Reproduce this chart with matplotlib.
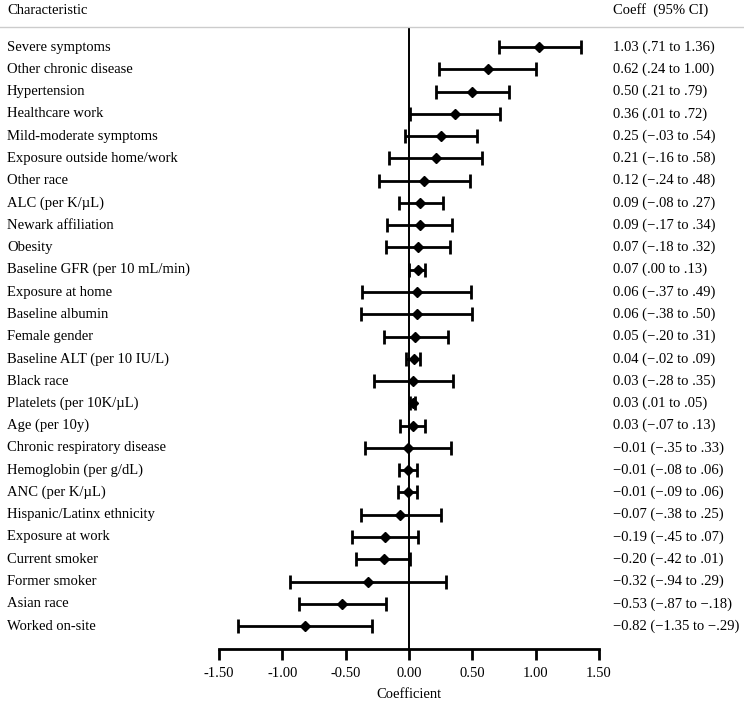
import numpy as np
import matplotlib.pyplot as plt
import matplotlib.transforms as mtransforms

# Forest plot data (coefficients with 95% CI)
labels = [
    "Severe symptoms", "Other chronic disease", "Hypertension", "Healthcare work",
    "Mild-moderate symptoms", "Exposure outside home/work", "Other race",
    "ALC (per K/\u00b5L)", "Newark affiliation", "Obesity",
    "Baseline GFR (per 10 mL/min)", "Exposure at home", "Baseline albumin",
    "Female gender", "Baseline ALT (per 10 IU/L)", "Black race",
    "Platelets (per 10K/\u00b5L)", "Age (per 10y)", "Chronic respiratory disease",
    "Hemoglobin (per g/dL)", "ANC (per K/\u00b5L)", "Hispanic/Latinx ethnicity",
    "Exposure at work", "Current smoker", "Former smoker", "Asian race",
    "Worked on-site",
]
coef = [1.03, 0.62, 0.50, 0.36, 0.25, 0.21, 0.12, 0.09, 0.09, 0.07, 0.07, 0.06,
        0.06, 0.05, 0.04, 0.03, 0.03, 0.03, -0.01, -0.01, -0.01, -0.07, -0.19,
        -0.20, -0.32, -0.53, -0.82]
lower = [0.71, 0.24, 0.21, 0.01, -0.03, -0.16, -0.24, -0.08, -0.17, -0.18, 0.00,
         -0.37, -0.38, -0.20, -0.02, -0.28, 0.01, -0.07, -0.35, -0.08, -0.09,
         -0.38, -0.45, -0.42, -0.94, -0.87, -1.35]
upper = [1.36, 1.00, 0.79, 0.72, 0.54, 0.58, 0.48, 0.27, 0.34, 0.32, 0.13, 0.49,
         0.50, 0.31, 0.09, 0.35, 0.05, 0.13, 0.33, 0.06, 0.06, 0.25, 0.07, 0.01,
         0.29, -0.18, -0.29]
xticks = [-1.5, -1.0, -0.5, 0.0, 0.5, 1.0, 1.5]

plt.rcParams['font.family'] = ['Liberation Serif', 'DejaVu Serif']
plt.rcParams['font.size'] = 10.5


def fmt_ci(v):
    s = f"{abs(v):.2f}"
    if abs(v) < 1:
        s = s[1:]
    return ("\u2212" if v < 0 else "") + s


def fmt_coef(v):
    return ("\u2212" if v < 0 else "") + f"{abs(v):.2f}"


fig = plt.figure(figsize=(7.44, 7.02), dpi=100)
ax = fig.add_axes([219 / 744, 53 / 702, 380 / 744, (649 - 27) / 702])

y = np.arange(len(labels))
coef_a = np.array(coef)
err = [coef_a - np.array(lower), np.array(upper) - coef_a]
ax.errorbar(coef_a, y, xerr=err, fmt='D', color='black', ms=5.5,
            elinewidth=2, capsize=5, capthick=2)

ax.axvline(0, color='black', lw=1.4, zorder=0)
ax.set_xlim(-1.5, 1.5)
ax.set_ylim(27.03, -0.9)
ax.set_xticks(xticks)
ax.set_xticklabels([f"{t:.2f}" for t in xticks], fontsize=10.5)
ax.tick_params(axis='x', length=8, width=2, pad=5)
ax.set_yticks([])
for s in ['top', 'left', 'right']:
    ax.spines[s].set_visible(False)
ax.spines['bottom'].set_linewidth(2)
ax.set_xlabel("Coefficient", fontsize=10.5, labelpad=6)

# left labels and right column text
trans = mtransforms.blended_transform_factory(fig.transFigure, ax.transData)
for i, lab in enumerate(labels):
    ax.text(7 / 744, i, lab, transform=trans, ha='left', va='center')
    ax.text(613 / 744, i,
            f"{fmt_coef(coef[i])} ({fmt_ci(lower[i])} to {fmt_ci(upper[i])})",
            transform=trans, ha='left', va='center')

fig.text(7 / 744, 1 - 10 / 702, "Characteristic", ha='left', va='center')
fig.text(613 / 744, 1 - 10 / 702, "Coeff  (95% CI)", ha='left', va='center')
fig.add_artist(plt.Line2D([0, 1], [1 - 27 / 702, 1 - 27 / 702],
                          transform=fig.transFigure, color='#cccccc', lw=1))

fig.savefig("out.png", dpi=100)
